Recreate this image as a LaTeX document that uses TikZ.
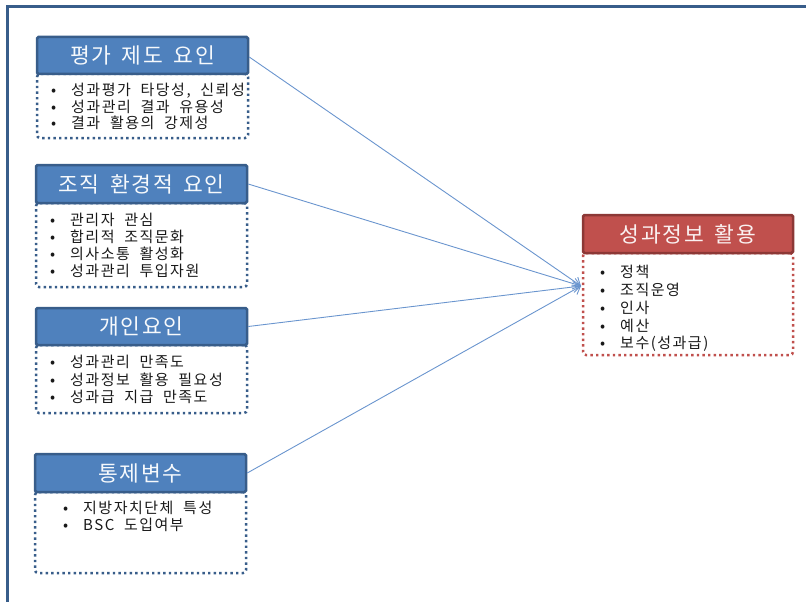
\documentclass[tikz,border=0pt]{standalone}
\usepackage{fontspec}
\setmainfont{Noto Sans CJK KR}
\newfontfamily\widef{Noto Sans CJK KR}[LetterSpace=8, WordSpace=1.6]
\newfontfamily\bodyf{Noto Sans CJK KR}[LetterSpace=10, WordSpace=2]
\usetikzlibrary{arrows.meta}
\definecolor{hblue}{HTML}{4F81BD}
\definecolor{dblue}{HTML}{385D8A}
\definecolor{hred}{HTML}{C0504D}
\definecolor{dred}{HTML}{8C3836}
\definecolor{lnblue}{HTML}{6A95CE}
\tikzset{
  hdr/.style={draw=dblue, fill=hblue, line width=2.5pt, rounded corners=1.5pt, inner sep=0pt,
    text=white!95!hblue, font=\widef\fontsize{21.5}{24}\selectfont},
  hdrred/.style={hdr, draw=dred, fill=hred, text=white!92!hred},
  bodybox/.style={draw=dblue, line width=2.5pt, dash pattern=on 2.4pt off 3.2pt, rounded corners=3pt, inner sep=0pt},
  bodyred/.style={bodybox, draw=hred},
  item/.style={anchor=base west, inner sep=0pt, text=black!90, font=\bodyf\fontsize{15}{17}\selectfont},
  conn/.style={draw=lnblue, line width=0.9pt, -{Straight Barb[length=7pt,width=11pt,line width=0.9pt]}},
}
\newcommand{\bul}{\makebox[20pt][l]{•}}
\begin{document}
\begin{tikzpicture}[x=1pt,y=-1pt]
\useasboundingbox (0,0) rectangle (806,602);
% frame
\draw[dblue, line width=3pt] (7.5,602) -- (7.5,6.5) -- (806,6.5);

% box 1
\node[bodybox, minimum width=211pt, minimum height=64pt] (b1) at (142.5,106) {};
\node[hdr, minimum width=211pt, minimum height=37pt] (h1) at (142.5,55.5) {평가 제도 요인};
\node[item] (t11) at (51,95.5) {\bul 성과평가 타당성, 신뢰성};
\node[item] (t12) at (51,112) {\bul 성과관리 결과 유용성};
\node[item] (t13) at (51,128.5) {\bul 결과 활용의 강제성};

% box 2
\node[bodybox, minimum width=211pt, minimum height=84pt] (b2) at (141.5,245) {};
\node[hdr, minimum width=211pt, minimum height=38pt] (h2) at (141.5,184) {조직 환경적 요인};
\node[item] (t21) at (50,225.5) {\bul 관리자 관심};
\node[item] (t22) at (50,242.5) {\bul 합리적 조직문화};
\node[item] (t23) at (50,259.5) {\bul 의사소통 활성화};
\node[item] (t24) at (50,276.5) {\bul 성과관리 투입자원};

% box 3
\node[bodybox, minimum width=211pt, minimum height=68pt] (b3) at (141.5,379) {};
\node[hdr, minimum width=211pt, minimum height=37pt] (h3) at (141.5,326.5) {개인요인};
\node[item] (t31) at (50,367.5) {\bul 성과관리 만족도};
\node[item] (t32) at (50,385.5) {\bul 성과정보 활용 필요성};
\node[item] (t33) at (50,402.5) {\bul 성과급 지급 만족도};

% box 4
\node[bodybox, minimum width=211pt, minimum height=81pt] (b4) at (140.5,532.5) {};
\node[hdr, minimum width=211pt, minimum height=38pt] (h4) at (140.5,473) {통제변수};
\node[item] (t41) at (63,513.5) {\bul 지방자치단체 특성};
\node[item] (t42) at (63,530.5) {\bul BSC 도입여부};

% result box
\node[bodyred, minimum width=210pt, minimum height=102pt] (br) at (688,304) {};
\node[hdrred, minimum width=210pt, minimum height=38pt] (hr) at (688,234) {성과정보 활용};
\node[item] (r1) at (600,277.5) {\bul 정책};
\node[item] (r2) at (600,295.5) {\bul 조직운영};
\node[item] (r3) at (600,313.5) {\bul 인사};
\node[item] (r4) at (600,331.5) {\bul 예산};
\node[item] (r5) at (600,348.5) {\bul 보수(성과급)};

% connectors
\coordinate (tip) at (581,286);
\draw[conn] (h1.east) ++(0,1.5) -- (tip);
\draw[conn] (h2.east) -- (tip);
\draw[conn] (h3.east) -- (tip);
\draw[conn] (h4.east) -- (tip);
\end{tikzpicture}
\end{document}
